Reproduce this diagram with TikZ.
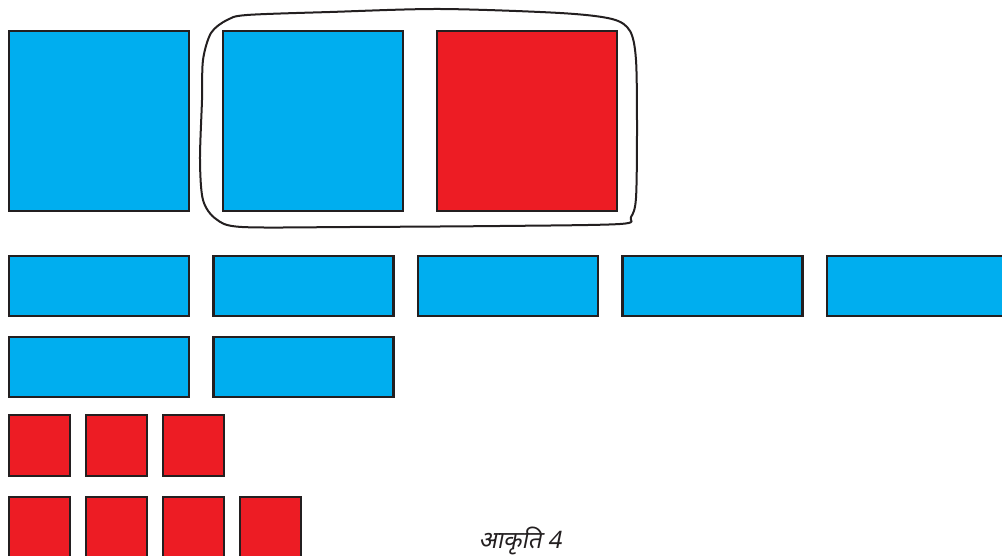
\documentclass[tikz,border=0pt]{standalone}
\usepackage{fontspec}
\newfontfamily\devfont[Script=Devanagari,FakeSlant=0.2]{Noto Sans}
\definecolor{cblue}{HTML}{00AEEF}
\definecolor{cred}{HTML}{ED1C24}
\definecolor{cline}{HTML}{231F20}
\tikzset{
  tile/.style={draw=cline, line width=2.6pt, inner sep=0pt, outer sep=0pt, anchor=north west},
  bluebox/.style={tile, fill=cblue},
  redbox/.style={tile, fill=cred},
  bigsq/.style={minimum width=180pt, minimum height=180pt},
  longbar/.style={minimum width=180pt, minimum height=60pt},
  smallsq/.style={minimum width=61pt, minimum height=61pt},
  enclosure/.style={draw=cline, line width=2pt},
  caption/.style={font=\devfont\fontsize{24}{28}\selectfont, text=cline, inner sep=0pt}
}
\begin{document}
\begin{tikzpicture}[x=1pt,y=-1pt]
\useasboundingbox (0,0) rectangle (1002,556);
\clip (0,0) rectangle (1002,556);
% big squares
\node[bluebox,bigsq] (b1) at (9,31) {};
\node[bluebox,bigsq] (b2) at (223,31) {};
\node[redbox,bigsq] (r1) at (437,31) {};
% enclosure
\draw[enclosure] plot[smooth cycle, tension=0.5] coordinates {
 (247,15) (330,12) (440,9) (560,13) (612,19) (630,31) (636,60) (637,130)
 (636,198) (631,217) (620,224) (500,226) (350,227) (242,227) (216,219)
 (203,200) (200,160) (202,100) (203,60) (211,33) (227,20)};
% long bars row 1
\node[bluebox,longbar] (l1) at (9,256) {};
\node[bluebox,longbar] (l2) at (213.5,256) {};
\node[bluebox,longbar] (l3) at (418,256) {};
\node[bluebox,longbar] (l4) at (622.5,256) {};
\node[bluebox,longbar] (l5) at (827,256) {};
% long bars row 2
\node[bluebox,longbar] (l6) at (9,337) {};
\node[bluebox,longbar] (l7) at (213.5,337) {};
% small squares row 1
\node[redbox,smallsq] (s1) at (9,415) {};
\node[redbox,smallsq] (s2) at (86,415) {};
\node[redbox,smallsq] (s3) at (163,415) {};
% small squares row 2
\node[redbox,smallsq] (s4) at (9,497) {};
\node[redbox,smallsq] (s5) at (86,497) {};
\node[redbox,smallsq] (s6) at (163,497) {};
\node[redbox,smallsq] (s7) at (240,497) {};
% caption
\node[caption] (cap) at (520,541) {आकृति 4};
\end{tikzpicture}
\end{document}
